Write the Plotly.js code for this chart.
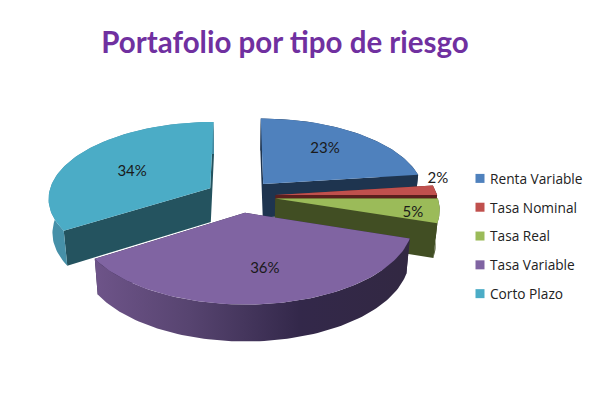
<!DOCTYPE html>
<html><head><meta charset="utf-8">
<script src="https://cdn.plot.ly/plotly-3.0.1.min.js"></script>
<style>html,body{margin:0;padding:0;background:#fff}</style></head>
<body><div id="chart" style="width:604px;height:394px"></div>
<script>
const categories = ["Renta Variable","Tasa Nominal","Tasa Real","Tasa Variable","Corto Plazo"];
const values = [23,2,5,36,34];
const topColors = ["#4F81BD","#C0504D","#9BBB59","#8064A2","#4BACC6"];
const faceColors = ["#1E344F","#5C1F1D","#414E23","#33284A","#24535F"];
const arcColors = ["#1E344F","#5C1F1D","#414E23","#33284A","#4690A8"];
const labelRadius = [0.58,0.96,0.84,0.64,0.56];
const labelShiftX = [5,9,0,5,-3];
const labelShiftY = [-4,-11,4,1,3];
const drawOrder = [0,1,4,2,3];

const view = {cx:240.5,cy:196,R:162,tilt:0.47,persp:8.2,pull:35,depth:34,taper:0.98};
function project(X,Y,down){
  const s = view.persp/(view.persp+Y/view.R);
  return [view.cx+X*s*(down?view.taper:1), view.cy-Y*view.tilt*s+(down?view.depth*(1+(s-1)*0.5):0)];
}
const total = values.reduce((a,b)=>a+b,0);
let run = 0;
const slices = values.map(v=>{const a0=run/total*2*Math.PI; run+=v; const a1=run/total*2*Math.PI; return {a0,a1,mid:(a0+a1)/2};});
function rim(sl,down){
  const ox=view.pull*Math.sin(sl.mid), oy=view.pull*Math.cos(sl.mid), pts=[];
  const n=Math.max(6,Math.round((sl.a1-sl.a0)*40));
  for(let i=0;i<=n;i++){const a=sl.a0+(sl.a1-sl.a0)*i/n;
    pts.push(project(ox+view.R*Math.sin(a),oy+view.R*Math.cos(a),down));}
  return pts;
}
function apex(sl,down){return project(view.pull*Math.sin(sl.mid),view.pull*Math.cos(sl.mid),down);}
function polys(list){const x=[],y=[];list.forEach((p,i)=>{if(i){x.push(null);y.push(null);}p.forEach(q=>{x.push(q[0]);y.push(q[1]);});x.push(p[0][0]);y.push(p[0][1]);});return {x,y};}
const base={type:'scatter',mode:'lines',fill:'toself',line:{width:0},hoverinfo:'skip',showlegend:false};
const traces=[];
drawOrder.forEach(i=>{
  const sl=slices[i], t=rim(sl,false), b=rim(sl,true), A=apex(sl,false), B=apex(sl,true);
  const startFace=[A,t[0],b[0],B], endFace=[A,t[t.length-1],b[b.length-1],B];
  const arc=t.concat(b.slice().reverse());
  traces.push(Object.assign({},base,polys([startFace,endFace]),{fillcolor:faceColors[i]}));
  const arcTrace=Object.assign({},base,polys([arc]),{fillcolor:arcColors[i]});
  if(i===3) arcTrace.fillgradient={type:'horizontal',colorscale:[[0,'#6E5489'],[0.3,'#574470'],[0.65,'#33284A'],[1,'#322842']]};
  traces.push(arcTrace);
  traces.push(Object.assign({},base,polys([[A].concat(t)]),{fillcolor:topColors[i]}));
});
const lab=slices.map((sl,i)=>{
  const r=labelRadius[i]*view.R;
  const p=project(view.pull*Math.sin(sl.mid)+r*Math.sin(sl.mid),view.pull*Math.cos(sl.mid)+r*Math.cos(sl.mid),false);
  return [p[0]+labelShiftX[i],p[1]+labelShiftY[i]];
});
traces.push({type:'scatter',mode:'text',x:lab.map(p=>p[0]),y:lab.map(p=>p[1]),
  text:values.map(v=>v+'%'),textposition:'middle center',textfont:{family:'Lato,sans-serif',size:15,color:'#1a1a1a'},hoverinfo:'skip',showlegend:false});
categories.forEach((c,i)=>traces.push({type:'scatter',mode:'markers',x:[null],y:[null],name:c,legendgroup:c,
  marker:{symbol:'square',size:9,color:topColors[i]},showlegend:true,hoverinfo:'skip'}));

const layout={width:604,height:394,margin:{l:0,r:0,t:0,b:0},paper_bgcolor:'#fff',plot_bgcolor:'#fff',
  title:{text:'<b>Portafolio por tipo de riesgo</b>',x:285/604,xanchor:'center',y:1-43/394,yanchor:'middle',
    font:{family:'Lato,sans-serif',size:29.5,color:'#7030A0'}},
  xaxis:{range:[0,604],visible:false,fixedrange:true},
  yaxis:{range:[394,0],visible:false,fixedrange:true},
  legend:{x:460/604,y:1-163/394,xanchor:'left',yanchor:'top',bgcolor:'rgba(0,0,0,0)',tracegroupgap:8,
    font:{family:'"Open Sans",sans-serif',size:13.7,color:'#222'},itemclick:false,itemdoubleclick:false},
  showlegend:true};
Plotly.newPlot('chart',traces,layout,{displayModeBar:false,staticPlot:true}).then(()=>{
  document.querySelectorAll('.legendtext').forEach(t=>{t.setAttribute('x',parseFloat(t.getAttribute('x'))-10);});
});
</script></body></html>
